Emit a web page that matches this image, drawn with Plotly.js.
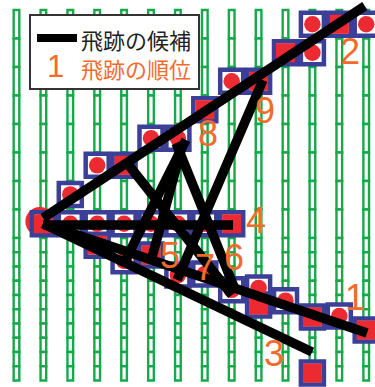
<!DOCTYPE html>
<html>
<head>
<meta charset="utf-8">
<script src="https://cdn.plot.ly/plotly-3.0.1.min.js"></script>
<style>
  html, body { margin: 0; padding: 0; background: #fff; }
  #chart { width: 375px; height: 387px; }
</style>
</head>
<body>
<div id="chart"></div>
<script>
// straw columns (x = column index), cell edges in row units (y grows downward)
const strawCols = [0, 1, 2, 3, 4, 5, 6, 7, 8, 9, 10, 11, 12, 13];
const cellEdges = [0, 1, 2, 3, 4, 5, 6, 7, 8, 8.5, 9, 9.5, 10, 10.5, 11, 11.5, 12, 12.5, 13];

// hits: column, row position, mark type (c = circle, s = square)
const hitCol  = [11, 12, 13, 10, 11, 8, 9, 7, 5, 6, 3, 4, 2,
                 1, 2, 3, 4, 5, 6, 7, 8,
                 3, 4, 5, 6, 7, 8, 9, 9, 10, 11, 12, 13, 11];
const hitRow  = [0.5, 0.5, 0.5, 1.5, 1.5, 2.5, 2.5, 3.5, 4.5, 4.5, 5.45, 5.45, 6.47,
                 7.5, 7.5, 7.5, 7.5, 7.5, 7.5, 7.5, 7.5,
                 8.25, 8.8, 8.6, 9.3, 9.26, 9.82, 9.75, 10.35, 10.2, 10.77, 10.74, 11.23, 12.74];
const hitMark = ['c', 's', 'c', 's', 'c', 'c', 's', 's', 'c', 'c', 'c', 's', 'c',
                 's', 'c', 'c', 'c', 'c', 'c', 'c', 's',
                 's', 'c', 's', 'c', 'c', 'c', 'c', 's', 'c', 's', 'c', 's', 's'];

// vertex hit (large circle)
const vertexX = [0.87];
const vertexY = [7.42];

// track candidates: start / end points
const trackX0 = [0.99, 0.99, 0.99, 0.99, 6.30, 5.93, 6.19, 4.11, 9.16];
const trackY0 = [7.48, 7.30, 7.50, 7.54, 4.56, 4.67, 4.67, 5.37, 2.46];
const trackX1 = [13.03, 12.95, 10.99, 8.05, 3.96, 8.16, 5.04, 8.01, 5.97];
const trackY1 = [11.33, -0.14, 12.00, 7.54, 8.95, 9.89, 8.67, 10.00, 9.47];

// track rank labels
const labelText = ['1', '2', '3', '4', '5', '6', '7', '8', '9'];
const labelX = [12.58, 12.40, 9.57, 8.90, 5.71, 8.09, 7.01, 7.12, 9.24];
const labelY = [10.10, 1.47, 12.04, 7.37, 8.60, 8.70, 9.05, 4.35, 3.51];

const legendItems = ['飛跡の候補', '飛跡の順位'];

const GREEN = '#16a94a', BLUE = '#3b3f98', RED = '#ec2a31', ORANGE = '#f26b2a';

// straw cells as bars
const cellX = [], cellBase = [], cellH = [];
strawCols.forEach(c => {
  for (let k = 0; k < cellEdges.length - 1; k++) {
    cellX.push(c); cellBase.push(cellEdges[k]); cellH.push(cellEdges[k + 1] - cellEdges[k]);
  }
});

const pick = (arr, m) => arr.filter((_, i) => m === null || hitMark[i] === m);

const trX = [], trY = [];
trackX0.forEach((x, i) => { trX.push(x, trackX1[i], null); trY.push(trackY0[i], trackY1[i], null); });

const traces = [
  {type: 'bar', x: cellX, y: cellH, base: cellBase, width: 0.21,
   marker: {color: 'white', line: {color: GREEN, width: 2.4}}, hoverinfo: 'skip'},
  {type: 'scatter', mode: 'markers', x: vertexX, y: vertexY,
   marker: {symbol: 'circle', size: 29, color: RED}, hoverinfo: 'skip'},
  {type: 'scatter', mode: 'markers', x: pick(hitCol, null), y: pick(hitRow, null),
   marker: {symbol: 'square', size: 23, color: 'white', line: {color: BLUE, width: 4.5}}, hoverinfo: 'skip'},
  {type: 'scatter', mode: 'markers', x: pick(hitCol, 's'), y: pick(hitRow, 's'),
   marker: {symbol: 'square', size: 19, color: RED}, hoverinfo: 'skip'},
  {type: 'scatter', mode: 'markers', x: pick(hitCol, 'c'), y: pick(hitRow, 'c'),
   marker: {symbol: 'circle', size: 16.5, color: RED}, hoverinfo: 'skip'},
  {type: 'scatter', mode: 'lines', x: trX, y: trY, connectgaps: false,
   line: {color: '#000', width: 9.5}, hoverinfo: 'skip'}
];

const annotations = labelText.map((t, i) => ({
  x: labelX[i], y: labelY[i], xref: 'x', yref: 'y', text: t, showarrow: false,
  xanchor: 'center', yanchor: 'middle',
  font: {family: 'Liberation Sans Narrow, Liberation Sans, Arial', size: 36, color: ORANGE}
}));

// legend texts (paper coords)
annotations.push(
  {x: 136 / 375, y: 1 - 39 / 387, xref: 'paper', yref: 'paper', text: legendItems[0], showarrow: false,
   xanchor: 'center', yanchor: 'middle', font: {family: 'Noto Sans CJK JP', size: 22, color: '#231f20'}},
  {x: 55 / 375, y: 1 - 67 / 387, xref: 'paper', yref: 'paper', text: '1', showarrow: false,
   xanchor: 'center', yanchor: 'middle', font: {family: 'Liberation Sans Narrow, Liberation Sans, Arial', size: 31, color: ORANGE}},
  {x: 136 / 375, y: 1 - 68 / 387, xref: 'paper', yref: 'paper', text: legendItems[1], showarrow: false,
   xanchor: 'center', yanchor: 'middle', font: {family: 'Noto Sans CJK JP', size: 22, color: ORANGE}}
);

const layout = {
  width: 375, height: 387,
  margin: {l: 0, r: 0, t: 0, b: 0},
  paper_bgcolor: 'white', plot_bgcolor: 'white',
  showlegend: false,
  xaxis: {range: [-0.613, 13.327], visible: false, fixedrange: true},
  yaxis: {range: [13.228, -0.351], visible: false, fixedrange: true},
  shapes: [
    {type: 'rect', xref: 'paper', yref: 'paper', layer: 'above',
     x0: 30 / 375, x1: 199 / 375, y0: 1 - 15 / 387, y1: 1 - 89 / 387,
     fillcolor: 'white', line: {color: '#333', width: 2}},
    {type: 'line', xref: 'paper', yref: 'paper', layer: 'above',
     x0: 37 / 375, x1: 77 / 375, y0: 1 - 38 / 387, y1: 1 - 38 / 387,
     line: {color: '#000', width: 8}}
  ],
  annotations
};

Plotly.newPlot('chart', traces, layout, {displayModeBar: false, staticPlot: true});
</script>
</body>
</html>
